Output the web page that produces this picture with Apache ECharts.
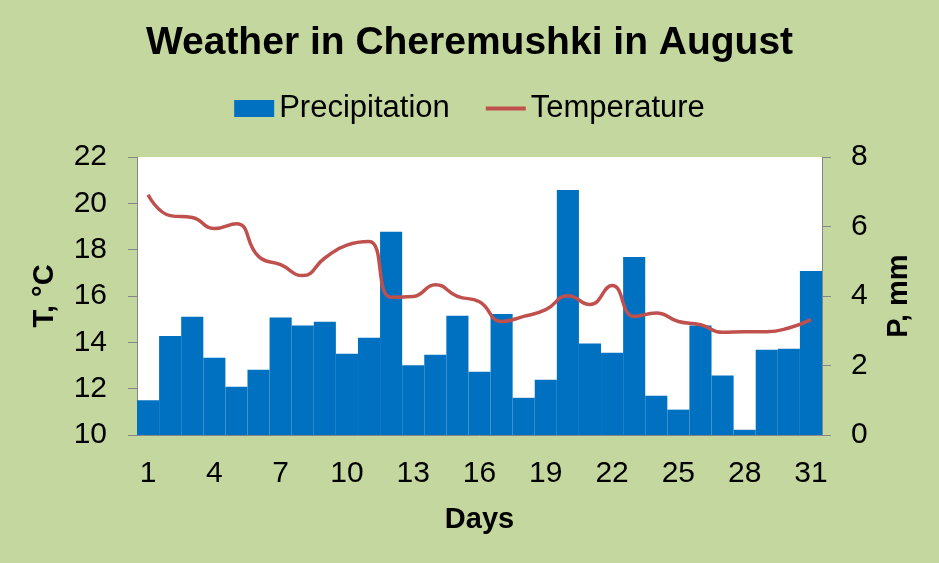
<!DOCTYPE html>
<html>
<head>
<meta charset="utf-8">
<script src="https://cdn.jsdelivr.net/npm/echarts@6/dist/echarts.min.js"></script>
<style>
  html, body { margin: 0; padding: 0; background: #c4d79e; }
  #chart { width: 939px; height: 563px; }
</style>
</head>
<body>
<div id="chart"></div>
<script>
const days = []
for (let d = 1; d <= 31; d++) days.push(String(d))

const precipitation = [1.0, 2.85, 3.4, 2.22, 1.39, 1.88, 3.38, 3.15, 3.26, 2.34, 2.8, 5.85, 2.01, 2.31, 3.43, 1.82,
  3.48, 1.07, 1.59, 7.05, 2.63, 2.37, 5.12, 1.13, 0.73, 3.15, 1.71, 0.15, 2.45, 2.48, 4.72]

const temperature = [20.37, 19.47, 19.39, 18.91, 19.12, 17.71, 17.35, 16.88, 17.64, 18.2, 18.35, 15.95, 15.98, 16.49, 15.98, 15.75,
  14.9, 15.12, 15.41, 16.01, 15.63, 16.45, 15.12, 15.27, 14.9, 14.76, 14.43, 14.46, 14.46, 14.62, 14.98]

const font = 'Liberation Sans, Arial, sans-serif'
const axisGray = '#868686'

const chart = echarts.init(document.getElementById('chart'))

chart.setOption({
  backgroundColor: '#c4d79e',
  title: {
    text: 'Weather in Cheremushki in August',
    left: 'center',
    top: 19,
    textStyle: { fontFamily: font, fontSize: 39, fontWeight: 'bold', color: '#000' }
  },
  legend: {
    left: 'center',
    top: 88,
    itemWidth: 40,
    itemHeight: 17,
    itemGap: 36,
    textStyle: { fontFamily: font, fontSize: 31, color: '#000' },
    data: [
      { name: 'Precipitation', icon: 'rect' },
      { name: 'Temperature', icon: 'path://M0,0 L42,0 L42,4 L0,4 Z' }
    ]
  },
  grid: {
    left: 137,
    right: 117,
    top: 157,
    bottom: 128,
    show: true,
    backgroundColor: '#fff',
    borderWidth: 0
  },
  xAxis: {
    type: 'category',
    data: days,
    boundaryGap: true,
    name: 'Days',
    nameLocation: 'middle',
    nameGap: 70,
    nameTextStyle: { fontFamily: font, fontSize: 29, fontWeight: 'bold', color: '#000' },
    axisLine: { lineStyle: { color: axisGray } },
    axisTick: { interval: 2, length: 9, lineStyle: { color: axisGray } },
    axisLabel: { interval: 2, margin: 24, fontFamily: font, fontSize: 30, color: '#000' }
  },
  yAxis: [
    {
      type: 'value',
      min: 10,
      max: 22,
      interval: 2,
      name: 'T, °C',
      nameLocation: 'middle',
      nameGap: 78,
      nameTextStyle: { fontFamily: font, fontSize: 29, fontWeight: 'bold', color: '#000' },
      axisLine: { show: true, lineStyle: { color: axisGray } },
      axisTick: { show: true, length: 9, lineStyle: { color: axisGray } },
      axisLabel: { margin: 30, fontFamily: font, fontSize: 30, color: '#000' },
      splitLine: { show: false }
    },
    {
      type: 'value',
      min: 0,
      max: 8,
      interval: 2,
      position: 'right',
      name: 'P, mm',
      nameLocation: 'middle',
      nameGap: 62,
      nameTextStyle: { fontFamily: font, fontSize: 29, fontWeight: 'bold', color: '#000' },
      axisLine: { show: true, lineStyle: { color: axisGray } },
      axisTick: { show: true, length: 9, lineStyle: { color: axisGray } },
      axisLabel: { margin: 29, fontFamily: font, fontSize: 30, color: '#000' },
      splitLine: { show: false }
    }
  ],
  series: [
    {
      name: 'Precipitation',
      type: 'bar',
      yAxisIndex: 1,
      barCategoryGap: 0,
      itemStyle: { color: '#0070c0' },
      data: precipitation
    },
    {
      name: 'Temperature',
      type: 'line',
      yAxisIndex: 0,
      smooth: 0.5,
      symbol: 'none',
      itemStyle: { color: '#c0504d' },
      lineStyle: { color: '#c0504d', width: 3.5 },
      data: temperature
    }
  ]
})
</script>
</body>
</html>
